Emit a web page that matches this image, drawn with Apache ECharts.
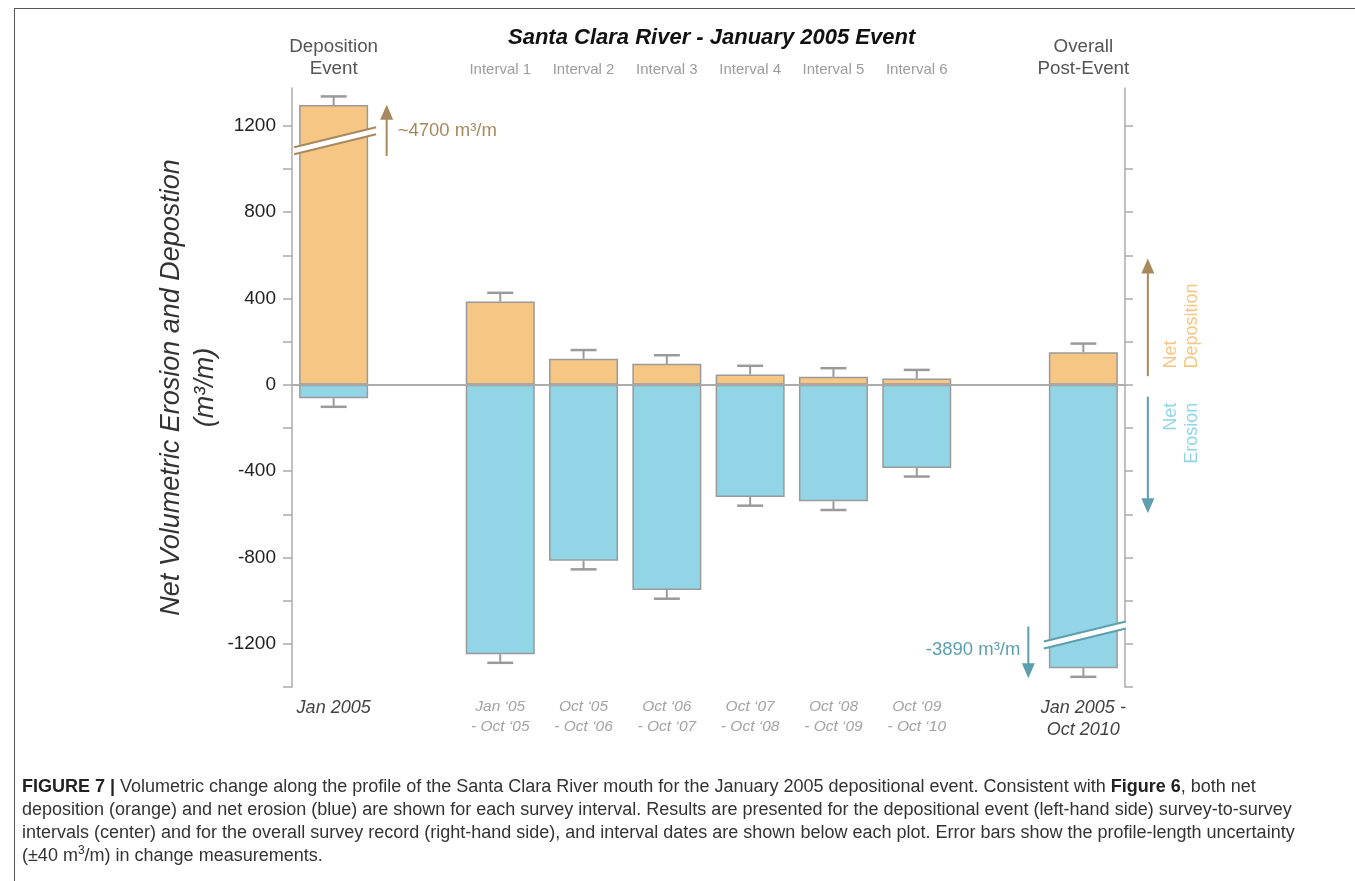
<!DOCTYPE html>
<html lang="en">
<head>
<meta charset="UTF-8">
<title>Santa Clara River - January 2005 Event</title>
<script src="https://cdn.jsdelivr.net/npm/echarts@6.0.0/dist/echarts.min.js"></script>
<style>
    html, body { margin: 0; padding: 0; background: #fff; overflow: hidden; }
    #frame { position: absolute; left: 14px; top: 8px; width: 1400px; height: 900px;
             border-left: 1px solid #555; border-top: 1px solid #555; }
    #main { position: absolute; left: 0; top: 0; width: 1355px; height: 881px; }
    #caption { position: absolute; left: 22px; top: 775px; white-space: nowrap;
               font-family: "Liberation Sans", Arial, sans-serif;
               font-size: 18px; line-height: 23px; color: #333; }
    #caption b { color: #222; }
    #caption sup { font-size: 12px; line-height: 0; }
</style>
</head>
<body>
<div id="frame"></div>
<div id="main"></div>
<div id="caption">
    <b>FIGURE 7 |</b> Volumetric change along the profile of the Santa Clara River mouth for the January 2005 depositional event. Consistent with <b>Figure 6</b>, both net<br>
    deposition (orange) and net erosion (blue) are shown for each survey interval. Results are presented for the depositional event (left-hand side) survey-to-survey<br>
    intervals (center) and for the overall survey record (right-hand side), and interval dates are shown below each plot. Error bars show the profile-length uncertainty<br>
    (&plusmn;40 m<sup>3</sup>/m) in change measurements.
</div>

<script>
    // 10 slots along x: event, gap, 6 intervals, gap, overall
    var topLabels = ['Deposition\nEvent', '', 'Interval 1', 'Interval 2', 'Interval 3',
                     'Interval 4', 'Interval 5', 'Interval 6', '', 'Overall\nPost-Event'];
    var dateLabels = ['Jan 2005', '', 'Jan \u201805\n- Oct \u201805', 'Oct \u201805\n- Oct \u201806',
                      'Oct \u201806\n- Oct \u201807', 'Oct \u201807\n- Oct \u201808', 'Oct \u201808\n- Oct \u201809',
                      'Oct \u201809\n- Oct \u201810', '', 'Jan 2005 -\nOct 2010'];
    // y ticks (every 200) and labelled values (every 400)
    var yTicks = [-1400, -1200, -1000, -800, -600, -400, -200, 0, 200, 400, 600, 800, 1000, 1200];
    var yLabels = [-1200, -800, -400, 0, 400, 800, 1200];
    // values as drawn (first and last bars are broken)
    var deposition = [1296, null, 386, 121, 97, 48, 37, 29, null, 151];
    var erosion = [-62, null, -1248, -815, -951, -520, -540, -385, null, -1313];
    var uncertainty = 40;
    // axis breaks: [slot, value at break]
    var breaks = [[0, 1131], [9, -1159]];
    var breakNotes = ['~4700 m\u00b3/m', '-3890 m\u00b3/m'];

    var FONT = '"Liberation Sans", Arial, sans-serif';
    var AXIS = '#ababab';
    var ORANGE = '#f6c684';
    var BLUE = '#92d5e6';
    var BROWN = '#a8895e';
    var TEAL = '#5c9fad';

    var errData = [];
    deposition.forEach(function (v, i) {
        if (v !== null) errData.push([i, v, v + uncertainty]);
    });
    erosion.forEach(function (v, i) {
        if (v !== null) errData.push([i, v, v - uncertainty]);
    });

    function isMain(i) { return i === 0 || i === 9; }

    var myChart = echarts.init(document.getElementById('main'));

    myChart.setOption({
        animation: false,
        textStyle: { fontFamily: FONT },
        title: {
            text: 'Santa Clara River - January 2005 Event',
            left: 503, top: 22,
            textStyle: { fontSize: 22, fontWeight: 'bold', fontStyle: 'italic', color: '#111', fontFamily: FONT }
        },
        grid: { left: 292, right: 230, top: 88, bottom: 194, outerBoundsMode: 'none' },
        xAxis: [{
            type: 'category',
            data: dateLabels,
            position: 'bottom',
            axisLine: { lineStyle: { color: AXIS, width: 1.5 } },
            axisTick: {
                inside: true, length: 6, alignWithLabel: true,
                interval: function (i, v) { return v !== ''; },
                lineStyle: { color: AXIS, width: 1.5 }
            },
            axisLabel: {
                interval: 0, margin: 10,
                formatter: function (v, i) {
                    if (!v) return '';
                    var key = isMain(i) ? 'm' : 's';
                    return v.split('\n').map(function (s) { return '{' + key + '|' + s + '}'; }).join('\n');
                },
                rich: {
                    m: { fontSize: 18, fontStyle: 'italic', color: '#444', lineHeight: 22, fontFamily: FONT },
                    s: { fontSize: 15.5, fontStyle: 'italic', color: '#a3a3a3', lineHeight: 20, fontFamily: FONT }
                }
            }
        }, {
            type: 'category',
            data: topLabels,
            position: 'top',
            axisLine: { lineStyle: { color: AXIS, width: 1.5 } },
            axisTick: {
                inside: true, length: 6, alignWithLabel: true,
                interval: function (i, v) { return v !== ''; },
                lineStyle: { color: AXIS, width: 1.5 }
            },
            axisLabel: {
                interval: 0, margin: 8,
                formatter: function (v, i) {
                    if (!v) return '';
                    var key = isMain(i) ? 'e' : 'n';
                    return v.split('\n').map(function (s) { return '{' + key + '|' + s + '}'; }).join('\n');
                },
                rich: {
                    e: { fontSize: 18.8, color: '#555', lineHeight: 22, fontFamily: FONT },
                    n: { fontSize: 15, color: '#9c9c9c', lineHeight: 20, fontFamily: FONT }
                }
            }
        }],
        yAxis: [{
            type: 'value',
            min: -1400, max: 1375, interval: 200,
            position: 'left',
            name: 'Net Volumetric Erosion and Depostion\n(m\u00b3/m)',
            nameLocation: 'middle', nameRotate: 90, nameGap: 70, nameMoveOverlap: false,
            nameTextStyle: { fontSize: 27, fontStyle: 'italic', color: '#333', lineHeight: 34, fontFamily: FONT },
            axisLine: { show: true, lineStyle: { color: AXIS, width: 1.5 } },
            axisTick: { show: true, length: 9, customValues: yTicks, lineStyle: { color: AXIS, width: 1.5 } },
            axisLabel: {
                margin: 16, fontSize: 19, color: '#222', customValues: yLabels,
                formatter: function (v) { return String(v); }
            },
            splitLine: { show: false }
        }, {
            type: 'value',
            min: -1400, max: 1375, interval: 200,
            position: 'right',
            axisLine: { show: true, lineStyle: { color: AXIS, width: 1.5 } },
            axisTick: { show: true, length: 8, customValues: yTicks, lineStyle: { color: AXIS, width: 1.5 } },
            axisLabel: { show: false },
            splitLine: { show: false }
        }],
        series: [{
            name: 'Net Deposition',
            type: 'bar',
            stack: 'net',
            barWidth: 69,
            data: deposition,
            itemStyle: { color: ORANGE, borderColor: '#9a9a9a', borderWidth: 1.5 },
            markLine: {
                silent: true, symbol: 'none', label: { show: false },
                lineStyle: { color: AXIS, width: 1.5, type: 'solid' },
                data: [{ yAxis: 0 }]
            }
        }, {
            name: 'Net Erosion',
            type: 'bar',
            stack: 'net',
            barWidth: 69,
            data: erosion,
            itemStyle: { color: BLUE, borderColor: '#9a9a9a', borderWidth: 1.5 }
        }, {
            name: 'Uncertainty',
            type: 'custom',
            z: 5,
            data: errData,
            renderItem: function (params, api) {
                var p0 = api.coord([api.value(0), api.value(1)]);
                var p1 = api.coord([api.value(0), api.value(2)]);
                var half = 13;
                return {
                    type: 'group',
                    children: [{
                        type: 'line',
                        shape: { x1: p0[0], y1: p0[1], x2: p1[0], y2: p1[1] },
                        style: { stroke: '#9a9a9a', lineWidth: 2 }
                    }, {
                        type: 'line',
                        shape: { x1: p1[0] - half, y1: p1[1], x2: p1[0] + half, y2: p1[1] },
                        style: { stroke: '#9a9a9a', lineWidth: 2.5 }
                    }]
                };
            }
        }, {
            name: 'Breaks',
            type: 'custom',
            z: 6,
            data: breaks,
            renderItem: function (params, api) {
                var c = api.coord([api.value(0), api.value(1)]);
                var col = api.value(1) > 0 ? BROWN : TEAL;
                var cx = c[0] + 1.5, cy = c[1];
                var hw = 41, dy = 10, gap = 3.5;
                var xl = cx - hw, xr = cx + hw, yl = cy + dy, yr = cy - dy;
                return {
                    type: 'group',
                    children: [{
                        type: 'polygon',
                        shape: { points: [[xl, yl - gap], [xr, yr - gap], [xr, yr + gap], [xl, yl + gap]] },
                        style: { fill: '#fff' }
                    }, {
                        type: 'line',
                        shape: { x1: xl, y1: yl - gap, x2: xr, y2: yr - gap },
                        style: { stroke: col, lineWidth: 2 }
                    }, {
                        type: 'line',
                        shape: { x1: xl, y1: yl + gap, x2: xr, y2: yr + gap },
                        style: { stroke: col, lineWidth: 2 }
                    }]
                };
            }
        }]
    });

    // annotations placed from data coordinates
    function px(slot, val) { return myChart.convertToPixel({ xAxisIndex: 0, yAxisIndex: 0 }, [slot, val]); }
    function arrow(x, yFrom, yTo, color) {
        var dir = yTo < yFrom ? 1 : -1;
        return [{
            type: 'line', silent: true,
            shape: { x1: x, y1: yFrom, x2: x, y2: yTo + dir * 10 },
            style: { stroke: color, lineWidth: 2 }
        }, {
            type: 'polygon', silent: true,
            shape: { points: [[x, yTo], [x - 6.5, yTo + dir * 15], [x + 6.5, yTo + dir * 15]] },
            style: { fill: color }
        }];
    }
    var gridRight = px(9, 0)[0] + 41.5;
    var a0 = px(0, 1060), a0t = px(0, 1297);
    var a9 = px(9, -1120), a9t = px(9, -1360);
    var elems = [];
    elems = elems.concat(arrow(a0[0] + 53, a0[1], a0t[1], BROWN));
    elems.push({
        type: 'text', silent: true, x: a0[0] + 64, y: px(0, 1175)[1],
        style: { text: breakNotes[0], fill: BROWN, font: '18.5px ' + FONT, verticalAlign: 'middle' }
    });
    elems = elems.concat(arrow(a9[0] - 55, a9[1], a9t[1], TEAL));
    elems.push({
        type: 'text', silent: true, x: a9[0] - 63, y: px(9, -1228)[1],
        style: { text: breakNotes[1], fill: TEAL, font: '18.5px ' + FONT, align: 'right', verticalAlign: 'middle' }
    });
    // direction key on the right
    elems = elems.concat(arrow(gridRight + 23, px(0, 40)[1], px(0, 585)[1], BROWN));
    elems = elems.concat(arrow(gridRight + 23, px(0, -55)[1], px(0, -595)[1], TEAL));
    elems.push({
        type: 'text', silent: true, x: gridRight + 36, y: px(0, 75)[1], rotation: Math.PI / 2,
        style: { text: 'Net\nDeposition', fill: ORANGE, font: '18px ' + FONT, lineHeight: 21,
                 align: 'left', verticalAlign: 'top' }
    });
    elems.push({
        type: 'text', silent: true, x: gridRight + 36, y: px(0, -83)[1], rotation: Math.PI / 2,
        style: { text: 'Net\nErosion', fill: BLUE, font: '18px ' + FONT, lineHeight: 21,
                 align: 'right', verticalAlign: 'top' }
    });
    myChart.setOption({ graphic: { elements: elems } });
</script>
</body>
</html>
